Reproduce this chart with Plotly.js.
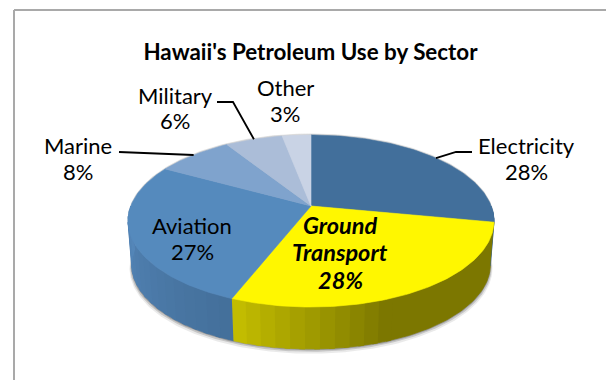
<!DOCTYPE html>
<html>
<head>
<meta charset="utf-8">
<script src="https://cdn.plot.ly/plotly-3.0.1.min.js"></script>
<style>html,body{margin:0;padding:0;background:#fff}</style>
</head>
<body>
<div id="chart" style="width:606px;height:380px"></div>
<script>
// Hawaii's petroleum use, percent of total by sector, clockwise from 12 o'clock
const sectors = ['Electricity', 'Ground Transport', 'Aviation', 'Marine', 'Military', 'Other'];
const shares = [28, 28, 27, 8, 6, 3];

const topColors = ['#426f9b', '#fff700', '#558abd', '#7fa3cd', '#abbdd8', '#c9d3e5'];
const wallNear = ['#3d6890', '#c9c300', '#5587ba', '#7fa3cd', '#abbdd8', '#c9d3e5'];
const wallFar = ['#3d6890', '#7c7700', '#44709b', '#7fa3cd', '#abbdd8', '#c9d3e5'];

// Tilted disc: a perspective view of a circle around its hub
const hub = {x: 311, y: 206};
const spanX = 180.2, spanY = 83.4, tilt = 0.1744;
const depth = 44, baseScale = 0.98;

function rim(deg, drop, scale) {
  const t = deg * Math.PI / 180;
  const u = Math.sin(t), v = Math.cos(t);
  const w = 1 + tilt * v;
  return [hub.x + scale * spanX * u / w, hub.y + drop - scale * spanY * v / w];
}
function arc(from, to, drop, scale) {
  const pts = [];
  const n = Math.max(2, Math.ceil(Math.abs(to - from)));
  for (let i = 0; i <= n; i++) pts.push(rim(from + (to - from) * i / n, drop, scale));
  return pts;
}
function poly(pts, color, extra) {
  return Object.assign({
    type: 'scatter', mode: 'lines', x: pts.map(p => p[0]), y: pts.map(p => p[1]),
    fill: 'toself', fillcolor: color, line: {color: color, width: 0.6},
    hoverinfo: 'skip', showlegend: false
  }, extra || {});
}
function mix(a, b, f) {
  const c = s => [1, 3, 5].map(i => parseInt(s.substr(i, 2), 16));
  const A = c(a), B = c(b);
  return 'rgb(' + A.map((val, i) => Math.round(val + (B[i] - val) * f)).join(',') + ')';
}

// Angular extent of each sector
const edges = [0];
shares.forEach(s => edges.push(edges[edges.length - 1] + s * 3.6));

const traces = [];

// Soft shadow under the disc, with a faint rim on the far side
[[1, 1.003, 'rgba(90,90,90,0.45)'], [2, 1.008, 'rgba(110,110,110,0.3)'], [3.5, 1.012, 'rgba(140,140,140,0.18)']]
  .forEach(([dy, sc, col]) => {
    traces.push(poly(arc(0, 360, depth + dy, baseScale * sc), col, {line: {width: 0, color: col}}));
  });
traces.push(poly(arc(0, 360, -1, 1), '#d4d4d4'));

// Side wall, drawn as narrow bands that shift in tone along each sector.
// Bands overlap slightly so no seams show between neighbours.
const bandStep = 4, bandOverlap = 1.5;
const groundFade = 44;
function wallPiece(from, to, col) {
  traces.push(poly(arc(from, to, 0, 1).concat(arc(to, from, depth, baseScale)), col, {line: {color: col, width: 0.8}}));
}
sectors.forEach((name, i) => {
  let a = Math.max(edges[i], 90);
  const b = Math.min(edges[i + 1], 270);
  if (b <= a) return;
  if (i === 1) {
    // The shaded part of this sector has one flat tone, then it brightens toward its end
    wallPiece(a, b - groundFade + bandOverlap, wallFar[i]);
    a = b - groundFade;
  }
  for (let t = a; t < b; t += bandStep) {
    const e = Math.min(t + bandStep + bandOverlap, b);
    const col = mix(wallFar[i], wallNear[i], (t - a) / (b - a));
    wallPiece(t, e, col);
  }
});

// Top face
sectors.forEach((name, i) => {
  const pts = [[hub.x, hub.y]].concat(arc(edges[i], edges[i + 1], 0, 1));
  pts.push([hub.x, hub.y]);
  traces.push(poly(pts, topColors[i]));
});

// Leader lines start at each sector's mid-angle on the rim
const mid = i => (edges[i] + edges[i + 1]) / 2;
function leader(pts) {
  return {
    type: 'scatter', mode: 'lines', x: pts.map(p => p[0]), y: pts.map(p => p[1]),
    line: {color: '#000', width: 1.8}, hoverinfo: 'skip', showlegend: false
  };
}
traces.push(leader([rim(mid(0), 0, 1), [456, 152], [472, 152]]));
traces.push(leader([rim(mid(3), 0, 1), [119, 152]]));
traces.push(leader([rim(mid(4), 0, 1), [233, 102], [217, 102]]));

// Each label line is placed on its own baseline slot
const family = 'Lato, Carlito, Calibri, sans-serif';
function labelLines(lines, x, ys, size) {
  return lines.map((text, k) => ({
    xref: 'x', yref: 'y', x: x, y: ys[k], text: text,
    showarrow: false, xanchor: 'center', yanchor: 'middle', align: 'center',
    font: {family: family, size: size, color: '#000'}
  }));
}
const plain = i => [sectors[i], shares[i] + '%'];
const bi = s => '<b><i>' + s + '</i></b>';

const layout = {
  width: 606, height: 380,
  margin: {l: 0, r: 0, t: 0, b: 0},
  paper_bgcolor: '#fff', plot_bgcolor: '#fff',
  showlegend: false,
  title: {
    text: "<b>Hawaii's Petroleum Use by Sector</b>",
    x: 310.5 / 606, xanchor: 'center', y: 1 - 52 / 380, yanchor: 'middle',
    font: {family: family, size: 22.4, color: '#000'}
  },
  xaxis: {range: [0, 606], visible: false, fixedrange: true},
  yaxis: {range: [380, 0], visible: false, fixedrange: true},
  shapes: [
    {type: 'line', layer: 'below', x0: 14, x1: 606, y0: 10, y1: 10, line: {color: '#a9a9a9', width: 2}},
    {type: 'line', layer: 'below', x0: 14, x1: 14, y0: 10, y1: 380, line: {color: '#a9a9a9', width: 2}}
  ],
  annotations: [].concat(
    labelLines(plain(0), 526, [145, 171], 22),
    labelLines(['Ground', 'Transport', shares[1] + '%'].map(bi), 340, [225, 252, 280], 23.5),
    labelLines(plain(2), 192, [225, 251], 22),
    labelLines(plain(3), 78, [145, 171], 22),
    labelLines(plain(4), 175, [95, 120], 22),
    labelLines(plain(5), 285, [87, 113], 22)
  )
};

Plotly.newPlot('chart', traces, layout, {displayModeBar: false, staticPlot: true});
</script>
</body>
</html>
